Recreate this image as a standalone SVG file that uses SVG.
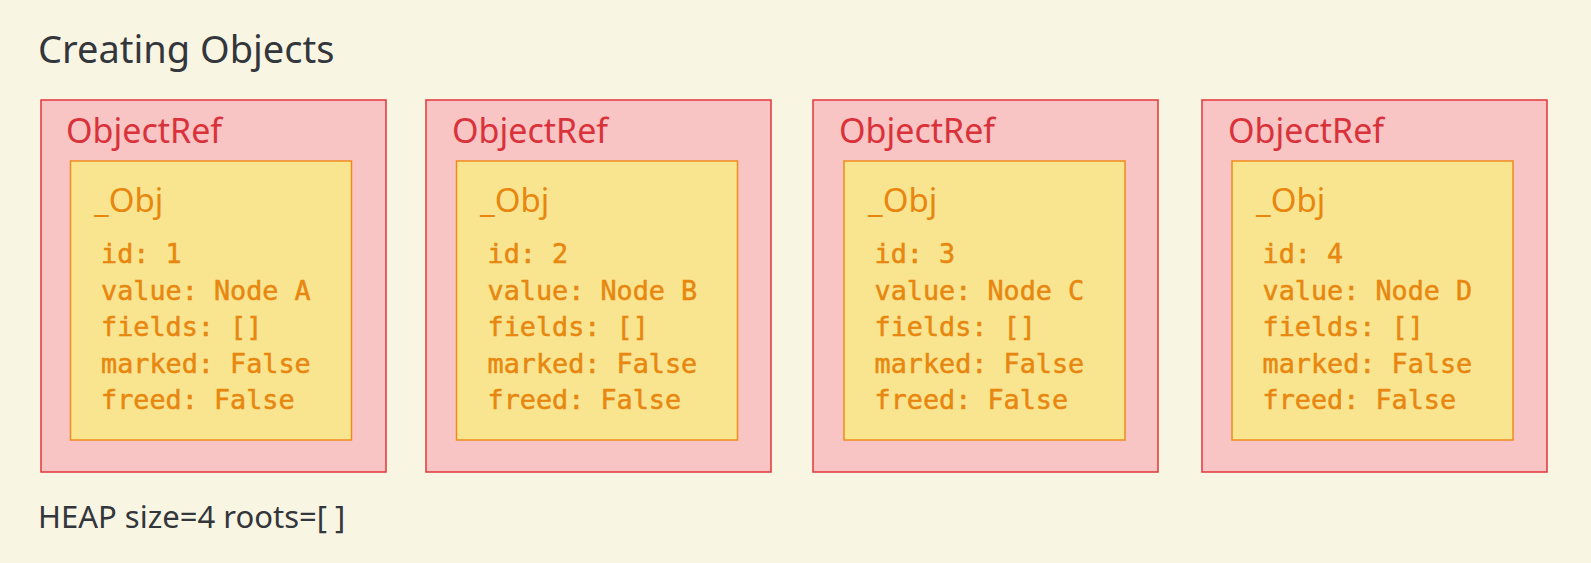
<svg xmlns="http://www.w3.org/2000/svg" width="1591" height="563" viewBox="0 0 1591 563">
<style>
.bg{fill:#f9f5e3}
.outer{fill:#f8c4c4;stroke:#e3363c;stroke-width:1.5}
.inner{fill:#f9e590;stroke:#ee8b1c;stroke-width:1.5}
.ref{font-family:"Noto Sans","Open Sans",sans-serif;font-size:34px;fill:#d9323a}
.obj{font-family:"Noto Sans","Open Sans",sans-serif;font-size:33px;fill:#e8870f}
.mono{font-family:"DejaVu Sans Mono","Liberation Mono",monospace;font-size:26.8px;fill:#e8870f;stroke:#e8870f;stroke-width:0.5}
.title{font-family:"Noto Sans","Open Sans",sans-serif;font-size:38px;fill:#33363b}
.heap{font-family:"Noto Sans","Open Sans",sans-serif;font-size:31px;fill:#33363b}
</style>
<rect class="bg" x="0" y="0" width="1591" height="563"/>
<text class="title" x="38" y="63">Creating Objects</text>
<g id="connectors"></g>
<g id="node1">
<rect class="outer" x="41" y="100" width="345" height="372"/>
<text class="ref" x="66" y="143">ObjectRef</text>
<rect class="inner" x="70.5" y="161" width="281" height="279"/>
<text class="obj" x="94" y="212">_Obj</text>
<text class="mono"><tspan x="101" y="263">id: 1</tspan><tspan x="101" y="299.5">value: Node A</tspan><tspan x="101" y="336">fields: []</tspan><tspan x="101" y="372.5">marked: False</tspan><tspan x="101" y="409">freed: False</tspan></text>
</g>
<g id="node2">
<rect class="outer" x="426" y="100" width="345" height="372"/>
<text class="ref" x="452" y="143">ObjectRef</text>
<rect class="inner" x="456.5" y="161" width="281" height="279"/>
<text class="obj" x="480" y="212">_Obj</text>
<text class="mono"><tspan x="487.5" y="263">id: 2</tspan><tspan x="487.5" y="299.5">value: Node B</tspan><tspan x="487.5" y="336">fields: []</tspan><tspan x="487.5" y="372.5">marked: False</tspan><tspan x="487.5" y="409">freed: False</tspan></text>
</g>
<g id="node3">
<rect class="outer" x="813" y="100" width="345" height="372"/>
<text class="ref" x="839" y="143">ObjectRef</text>
<rect class="inner" x="844" y="161" width="281" height="279"/>
<text class="obj" x="868" y="212">_Obj</text>
<text class="mono"><tspan x="874.5" y="263">id: 3</tspan><tspan x="874.5" y="299.5">value: Node C</tspan><tspan x="874.5" y="336">fields: []</tspan><tspan x="874.5" y="372.5">marked: False</tspan><tspan x="874.5" y="409">freed: False</tspan></text>
</g>
<g id="node4">
<rect class="outer" x="1202" y="100" width="345" height="372"/>
<text class="ref" x="1228" y="143">ObjectRef</text>
<rect class="inner" x="1232" y="161" width="281" height="279"/>
<text class="obj" x="1256" y="212">_Obj</text>
<text class="mono"><tspan x="1262.5" y="263">id: 4</tspan><tspan x="1262.5" y="299.5">value: Node D</tspan><tspan x="1262.5" y="336">fields: []</tspan><tspan x="1262.5" y="372.5">marked: False</tspan><tspan x="1262.5" y="409">freed: False</tspan></text>
</g>
<text class="heap" x="38" y="528">HEAP size=4 roots=[ ]</text>
</svg>
